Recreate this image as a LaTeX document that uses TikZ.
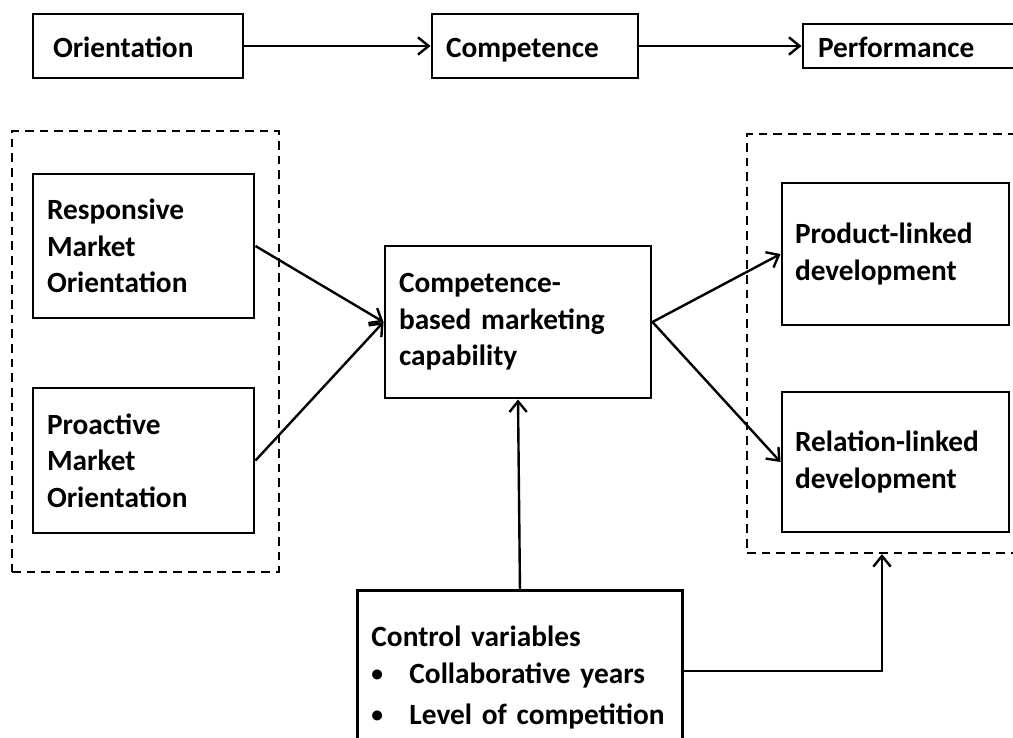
\documentclass[tikz,border=0pt]{standalone}
\usepackage{fontspec}
\setmainfont{Carlito}
\usetikzlibrary{arrows.meta}
\begin{document}
\begin{tikzpicture}[x=0.75pt,y=-0.75pt,
  box/.style={draw, line width=2.2pt, rectangle, inner sep=0pt, align=left,
    font=\fontsize{22}{27.5}\selectfont\bfseries},
  headbox/.style={box, text height=20pt, text depth=2pt},
  group/.style={draw, dash pattern=on 6.5pt off 4.5pt, line width=1.6pt, rectangle, inner sep=0pt},
  link/.style={line width=1.8pt, -{Straight Barb[length=8pt,width=13pt,line width=1.8pt]}}]
\useasboundingbox (0,0) rectangle (1013,738);

% dashed groupings
\node[group, minimum width=200.25pt, minimum height=330.75pt] (lgrp) at (145.5,351.5) {};
\node[group, minimum width=202.5pt, minimum height=314.25pt] (rgrp) at (882,343.5) {};

% top row
\node[headbox, minimum width=157.5pt, minimum height=48pt, text width=127.5pt] (ori) at (138,46) {Orientation};
\node[headbox, minimum width=154.5pt, minimum height=48pt, text width=133.5pt] (comp) at (535,46) {Competence};
\node[headbox, minimum width=165pt, minimum height=33pt, text width=142.5pt] (perf) at (913,46) {Performance};

% model
\node[box, minimum width=165.75pt, minimum height=108pt, text width=144.75pt] (resp) at (143.5,246)
  {Responsive\\Market\\Orientation};
\node[box, minimum width=165.75pt, minimum height=108.75pt, text width=144.75pt] (proa) at (143.5,460.5)
  {Proactive\\Market\\Orientation};
\node[box, minimum width=199.5pt, minimum height=114pt, text width=178.5pt] (cbmc) at (518,322)
  {Competence-\\based marketing\\capability};
\node[box, minimum width=170.25pt, minimum height=106.5pt, text width=150.75pt] (prod) at (895.5,254)
  {Product-linked\\development};
\node[box, minimum width=170.25pt, minimum height=105pt, text width=150.75pt] (rel) at (895.5,462)
  {Relation-linked\\development};
\node[box, anchor=north west, inner xsep=10.5pt, inner ysep=26.25pt, text width=222.75pt] (ctrl) at (356,589)
  {\mbox{Control variables}\\[0.25pt]
   \mbox{\makebox[28.5pt][l]{\raisebox{1pt}{\scalebox{0.8}{•}}}Collaborative years}\\[3.25pt]
   \mbox{\makebox[28.5pt][l]{\raisebox{1pt}{\scalebox{0.8}{•}}}Level of competition}};

% connectors
\draw[link] (ori) -- (comp);
\draw[link] (comp) -- (perf);
\draw[link] (resp.east) -- (cbmc.west);
\draw[link] (proa.east) -- (cbmc.west);
\draw[link] (cbmc.east) -- (prod.west);
\draw[link] (cbmc.east) -- (rel.west);
\draw[link] (ctrl.north) -- (cbmc.south);
\draw[link] ([yshift=4.5pt]ctrl.east) -| (rgrp.south);
\end{tikzpicture}
\end{document}
